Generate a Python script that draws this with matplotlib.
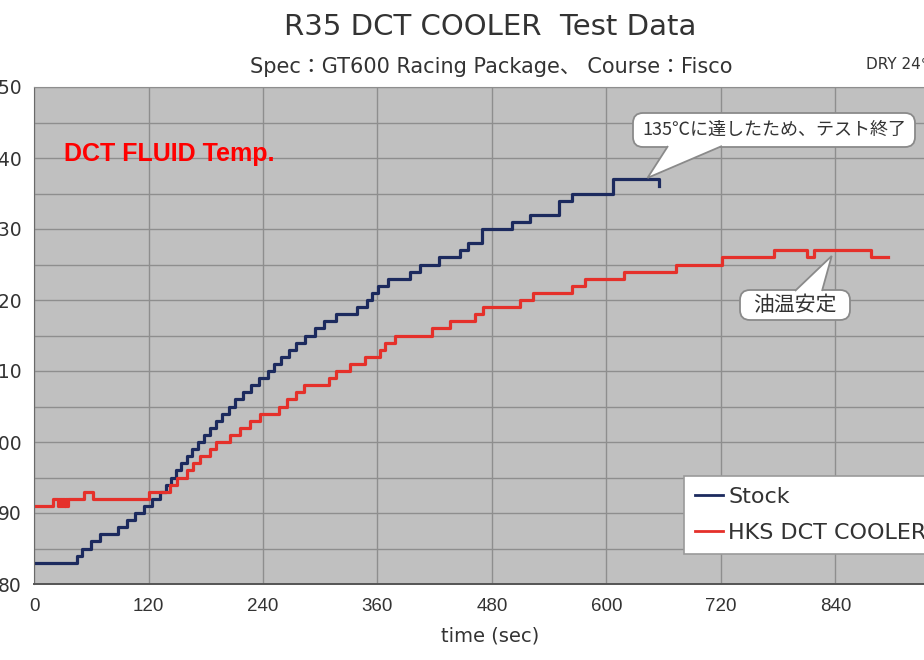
import matplotlib

matplotlib.use("Agg")

import matplotlib.pyplot as plt
from matplotlib import font_manager
from matplotlib.patches import FancyBboxPatch, Polygon
from matplotlib.transforms import Affine2D


# ---- data ----
stock_time = [0, 45, 50, 60, 69, 88, 97, 106, 115, 124, 132, 138, 144, 149, 154,
              160, 166, 172, 178, 184, 191, 197, 204, 211, 219, 227, 236, 245, 252,
              259, 267, 275, 284, 294, 304, 316, 338, 349, 354, 361, 371, 394, 405,
              424, 446, 455, 469, 501, 520, 550, 564, 607, 655]
stock_temp = [83, 84, 85, 86, 87, 88, 89, 90, 91, 92, 93, 94, 95, 96, 97,
              98, 99, 100, 101, 102, 103, 104, 105, 106, 107, 108, 109, 110, 111,
              112, 113, 114, 115, 116, 117, 118, 119, 120, 121, 122, 123, 124, 125,
              126, 127, 128, 130, 131, 132, 134, 135, 137, 136]

hks_time = [0, 20, 25, 26, 27, 28, 29, 30, 31, 32, 33, 34, 35, 36, 52, 62, 120,
            143, 150, 160, 167, 174, 184, 191, 205, 216, 226, 237, 257, 265, 275,
            283, 309, 316, 331, 347, 363, 368, 378, 417, 436, 462, 471, 509, 523,
            564, 577, 618, 673, 721, 776, 810, 817, 877, 895]
hks_temp = [91, 92, 91, 92, 91, 92, 91, 92, 91, 92, 91, 92, 91, 92, 93, 92, 93,
            94, 95, 96, 97, 98, 99, 100, 101, 102, 103, 104, 105, 106, 107,
            108, 109, 110, 111, 112, 113, 114, 115, 116, 117, 118, 119, 120, 121,
            122, 123, 124, 125, 126, 127, 126, 127, 126, 126]

x_ticks = [0, 120, 240, 360, 480, 600, 720, 840, 960]
y_ticks = [80, 90, 100, 110, 120, 130, 140, 150]

# points the two callouts point at (time, temp)
end_point = (643, 137.2)
stable_point = (836, 126.2)

TITLE = "R35 DCT COOLER  Test Data"
SUBTITLE = "Spec：GT600 Racing Package、 Course：Fisco"
COND = "DRY 24℃"
NOTE_END = "135℃に達したため、テスト終了"
NOTE_STABLE = "油温安定"

# ---- fonts ----
installed = {f.name for f in font_manager.fontManager.ttflist}
JP = "Noto Sans CJK JP"
NARROW = "Liberation Sans Narrow" if "Liberation Sans Narrow" in installed else "Liberation Sans"
plt.rcParams["font.family"] = ["DejaVu Sans", JP]

TXT = "#333333"
NAVY = "#1c2a5e"
RED = "#e5302a"
EDGE = "#8a8a8a"

W, H = 924, 660
fig = plt.figure(figsize=(W / 100, H / 100), dpi=100)
# picture pixels, measured from the top-left corner
px = Affine2D().scale(1 / W, -1 / H).translate(0, 1) + fig.transFigure

# axes runs off the right edge of the picture, as in the reference crop
ax_left, ax_right, ax_top, ax_bot = 34, 950, 87, 584
ax = fig.add_axes([ax_left / W, 1 - ax_bot / H, (ax_right - ax_left) / W, (ax_bot - ax_top) / H])
ax.set_facecolor("#c0c0c0")
ax.set_xlim(0, 960)
ax.set_ylim(80, 150)

ax.set_xticks(x_ticks)
ax.set_yticks(y_ticks)
ax.set_yticks(range(85, 150, 10), minor=True)
ax.grid(which="both", color="#8e8e8e", linewidth=1.0)
ax.set_axisbelow(True)
ax.tick_params(axis="both", which="both", length=0)
ax.tick_params(axis="y", pad=9, labelsize=13.5, labelcolor=TXT)
ax.tick_params(axis="x", pad=10, labelcolor=TXT)
for lab in ax.get_xticklabels():
    lab.set_fontfamily(NARROW)
    lab.set_fontsize(13.5)

for side in ["top", "right"]:
    ax.spines[side].set_color("#8e8e8e")
ax.spines["left"].set_color("#6a6a6a")
ax.spines["bottom"].set_color("#555555")
ax.spines["bottom"].set_linewidth(1.4)

ax.plot(stock_time, stock_temp, drawstyle="steps-post", color=NAVY, linewidth=2.3, label="Stock")
ax.plot(hks_time, hks_temp, drawstyle="steps-post", color=RED, linewidth=2.3, label="HKS DCT COOLER")

leg = ax.legend(
    loc="upper left",
    bbox_to_anchor=(684 / W, 1 - 476 / H),
    bbox_transform=fig.transFigure,
    borderaxespad=0,
    fancybox=False,
    framealpha=1,
    edgecolor="#9a9a9a",
    fontsize=16,
    handlelength=1.25,
    handletextpad=0.25,
    labelspacing=0.7,
    borderpad=0.5,
)
leg.get_frame().set_linewidth(1.2)
for t in leg.get_texts():
    t.set_color(TXT)
for line in leg.get_lines():
    line.set_linewidth(2.0)

ax.text(0.033, 0.852, "DCT FLUID Temp.", transform=ax.transAxes, color="#ff0000",
        fontsize=18, fontweight="bold", family=[NARROW, "DejaVu Sans"])


def to_px(point):
    x, y = ax.transData.transform(point)
    return x, H - y


def bubble(text, box, base, tip, size):
    x0, y0, bw, bh = box
    ax.add_patch(FancyBboxPatch((x0, y0), bw, bh, boxstyle="round,pad=0,rounding_size=10",
                                transform=px, fc="white", ec=EDGE, lw=1.3, zorder=6, clip_on=False))
    # pointer: open outline so it merges into the box border
    ax.add_patch(Polygon([base[0], to_px(tip), base[1]], closed=False, transform=px,
                         fc="white", ec=EDGE, lw=1.3, zorder=7, clip_on=False))
    ax.text(x0 + bw / 2, y0 + bh / 2, text, transform=px, ha="center", va="center",
            fontsize=size, color=TXT, family=[JP], zorder=8)


bubble(NOTE_END, (633, 113, 282, 34), ((668, 146), (722, 146)), end_point, 13)
bubble(NOTE_STABLE, (740, 290, 110, 30), ((795, 291), (822, 291)), stable_point, 15)

fig.text(490 / W, 1 - 35 / H, TITLE, ha="center", va="baseline", fontsize=21, color=TXT)
fig.text(491 / W, 1 - 73 / H, SUBTITLE, ha="center", va="baseline", fontsize=15, color=TXT)
fig.text(866 / W, 1 - 69 / H, COND, ha="left", va="baseline", fontsize=11, color=TXT)
fig.text(490 / W, 1 - 641 / H, "time (sec)", ha="center", va="baseline", fontsize=14, color=TXT)

fig.savefig("out.png", dpi=100)
